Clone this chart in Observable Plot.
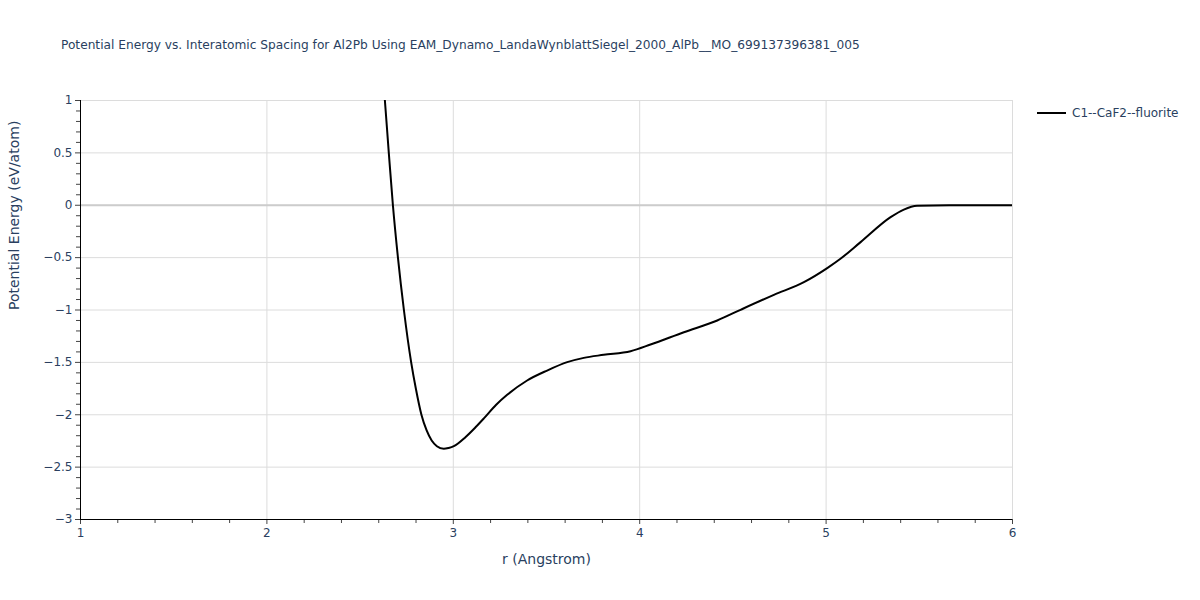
<!DOCTYPE html>
<html>
<head>
<meta charset="utf-8">
<script src="https://cdn.jsdelivr.net/npm/d3@7"></script>
<script src="https://cdn.jsdelivr.net/npm/@observablehq/plot@0.6"></script>
<style>
  body { margin: 0; background: #fff; }
  #wrap { position: relative; width: 1200px; height: 600px; font-family: "DejaVu Sans", Verdana, sans-serif; color: #2a3f5f; }
  #title { position: absolute; left: 61px; top: 38px; font-size: 12.2px; white-space: nowrap; }
  #legend { position: absolute; left: 1037px; top: 106px; font-size: 12px; display: flex; align-items: center; white-space: nowrap; }
  #legend .sw { width: 29px; height: 2px; background: #000; margin-right: 6px; }
  #chart { position: absolute; left: 0; top: 0; }
</style>
</head>
<body>
<div id="wrap">
  <div id="chart"></div>
  <div id="title">Potential Energy vs. Interatomic Spacing for Al2Pb Using EAM_Dynamo_LandaWynblattSiegel_2000_AlPb__MO_699137396381_005</div>
  <div id="legend"><div class="sw"></div><span>C1--CaF2--fluorite</span></div>
</div>
<script>
const seriesName = "C1--CaF2--fluorite";
const r = [2.610, 2.633, 2.654, 2.676, 2.703, 2.735, 2.774, 2.799, 2.829, 2.857, 2.884, 2.912, 2.949, 2.975, 3.003, 3.065, 3.119, 3.164, 3.230, 3.289, 3.396, 3.503, 3.611, 3.700, 3.807, 3.951, 4.058, 4.237, 4.416, 4.541, 4.720, 4.881, 5.006, 5.077, 5.185, 5.346, 5.417, 5.488, 5.660, 6.000];
const energy = [1.50, 1.00, 0.50, 0.00, -0.50, -1.00, -1.50, -1.75, -2.00, -2.15, -2.246, -2.30, -2.325, -2.317, -2.30, -2.214, -2.12, -2.035, -1.905, -1.81, -1.673, -1.578, -1.498, -1.457, -1.428, -1.393, -1.33, -1.212, -1.10, -0.998, -0.855, -0.734, -0.600, -0.511, -0.352, -0.114, -0.041, -0.005, 0.0, 0.0];
const xTicks = [1, 2, 3, 4, 5, 6];
const yTicks = [1, 0.5, 0, -0.5, -1, -1.5, -2, -2.5, -3];
const xMinor = d3.range(10, 61, 2).map(v => v / 10).filter(v => !xTicks.includes(v));
const yMinor = d3.range(-30, 11, 1).map(v => v / 10).filter(v => !yTicks.some(t => Math.abs(t - v) < 1e-9));

const data = r.map((x, i) => ({r: x, e: energy[i]}));
const fmt = d => d < 0 ? "\u2212" + Math.abs(d) : String(d);
const tickColor = "#2a3f5f";

const chart = Plot.plot({
  width: 1200,
  height: 600,
  marginLeft: 80,
  marginRight: 188,
  marginTop: 100,
  marginBottom: 81,
  style: {fontFamily: "DejaVu Sans, Verdana, sans-serif", fontSize: "12px", color: tickColor, background: "transparent"},
  x: {domain: [1, 6], label: null},
  y: {domain: [-3, 1], label: null},
  marks: [
    Plot.gridX(xTicks, {stroke: "#dcdcdc", strokeOpacity: 1}),
    Plot.gridY(yTicks, {stroke: "#dcdcdc", strokeOpacity: 1}),
    Plot.ruleY([0], {stroke: "#cccccc", strokeWidth: 2}),
    Plot.axisX(xMinor, {tickSize: 4, tickFormat: () => "", stroke: "#444", label: null}),
    Plot.axisX(xTicks, {tickSize: 5, tickPadding: 4, tickFormat: fmt, stroke: "#444", fill: tickColor, label: null, fontSize: 12}),
    Plot.axisY(yMinor, {tickSize: 4, tickFormat: () => "", stroke: "#444", label: null}),
    Plot.axisY(yTicks, {tickSize: 5, tickPadding: 3, tickFormat: fmt, stroke: "#444", fill: tickColor, label: null, fontSize: 12}),
    Plot.ruleX([1], {stroke: "#000", strokeWidth: 1}),
    Plot.ruleY([-3], {stroke: "#000", strokeWidth: 1}),
    Plot.line(data, {x: "r", y: "e", stroke: "#000", strokeWidth: 2, curve: "monotone-x", clip: true}),
    Plot.text(["r (Angstrom)"], {frameAnchor: "bottom", dy: 44, fontSize: 14, fill: tickColor}),
    Plot.text(["Potential Energy (eV/atom)"], {frameAnchor: "left", dx: -66, rotate: -90, fontSize: 14, fill: tickColor})
  ]
});
document.getElementById("chart").appendChild(chart);
</script>
</body>
</html>
